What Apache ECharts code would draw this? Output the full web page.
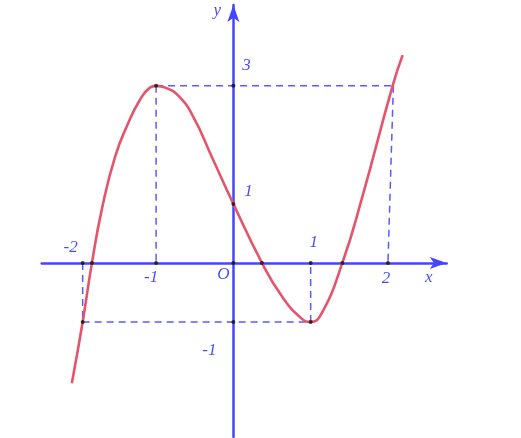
<!DOCTYPE html>
<html>
<head>
<meta charset="utf-8">
<script src="https://cdn.jsdelivr.net/npm/echarts@6/dist/echarts.min.js"></script>
<style>
html,body{margin:0;padding:0;background:#fff;}
#main{width:521px;height:438px;}
</style>
</head>
<body>
<div id="main"></div>
<script>
// 曲线上读出的点
var curveX = [-2.09, -1.95, -1.83, -1.70, -1.53, -1.36, -1.21, -1.08, -1, -0.88, -0.71, -0.52, -0.28, 0, 0.37, 0.63, 0.88, 1, 1.14, 1.41, 1.66, 2.06, 2.19];
var curveY = [-2.04, -1, 0, 0.92, 1.80, 2.37, 2.76, 2.97, 3, 2.97, 2.83, 2.48, 1.80, 1, 0, -0.57, -0.94, -1, -0.86, 0, 1.08, 3, 3.52];

// 刻度
var xTickValues = [-1.95, -1, 1, 2];
var xTickLabels = ['-2', '-1', '1', '2'];
var yTickValues = [3, 1, -1];
var yTickLabels = ['3', '1', '-1'];

// 虚线 (起点,终点)
var guideFrom = [[-1, 3], [-1, 3], [2.07, 3], [-1.95, -1], [1, -1], [-1.95, 0]];
var guideTo   = [[2.07, 3], [-1, 0], [2, 0], [1, -1], [1, 0], [-1.95, -1]];

// 黑点
var dotX = [-1, 0, -1, 0, 2, -1.95, -1.95, -1.83, 0.37, 1.41, 1, 1, 0, 0];
var dotY = [3, 3, 0, 1, 0, 0, -1, 0, 0, 0, 0, -1, -1, 0];

var chart = echarts.init(document.getElementById('main'));

var blue = '#4545ff';
var textBlue = '#1c1cf0';

var curveData = [];
for (var i = 0; i < curveX.length; i++) {
	curveData.push([curveX[i], curveY[i]]);
}

var series = [];
//虚线
for (var g = 0; g < guideFrom.length; g++) {
	series.push({
		type: 'line',
		data: [guideFrom[g], guideTo[g]],
		symbol: 'none',
		silent: true,
		lineStyle: {color: '#5a5aff', width: 1.5, type: [7, 5]},
		z: 2
	});
}
//曲线
series.push({
	type: 'line',
	data: curveData,
	smooth: 0.5,
	symbol: 'none',
	lineStyle: {color: '#e4546a', width: 2.6},
	z: 3
});
//点
var dotData = [];
for (var d = 0; d < dotX.length; d++) {
	dotData.push([dotX[d], dotY[d]]);
}
series.push({
	type: 'scatter',
	data: dotData,
	symbolSize: 4,
	itemStyle: {color: '#111'},
	z: 5
});

//文字
var xOff = [[-12, -15], [-5, 15], [3, -20], [-2, 16]];
var yOff = [[13, -20], [15, -12], [-24, 29]];
var labelData = [];
for (var a = 0; a < xTickValues.length; a++) {
	labelData.push({value: [xTickValues[a], 0], name: xTickLabels[a], label: {offset: xOff[a]}});
}
for (var b = 0; b < yTickValues.length; b++) {
	labelData.push({value: [0, yTickValues[b]], name: yTickLabels[b], label: {offset: yOff[b]}});
}
labelData.push({value: [0, 0], name: 'O', label: {offset: [-10, 12]}});
labelData.push({value: [2.76, 0], name: 'x', label: {offset: [-18, 15]}});
labelData.push({value: [0, 4.37], name: 'y', label: {offset: [-16, 6]}});

series.push({
	type: 'scatter',
	data: labelData,
	symbolSize: 0,
	silent: true,
	label: {
		show: true,
		position: 'inside',
		formatter: '{b}',
		color: textBlue,
		fontFamily: 'Liberation Serif',
		fontStyle: 'italic',
		fontSize: 17
	},
	z: 6
});

var axisCommon = {
	type: 'value',
	splitLine: {show: false},
	axisTick: {show: false},
	axisLabel: {show: false},
	axisLine: {
		show: true,
		onZero: true,
		symbol: ['none', 'arrow'],
		symbolSize: [9, 17],
		lineStyle: {color: blue, width: 2.5}
	}
};

var option = {
	animation: false,
	grid: {left: 41.7, right: 74.3, top: 5, bottom: 1},
	xAxis: Object.assign({}, axisCommon, {min: -2.48, max: 2.76}),
	yAxis: Object.assign({}, axisCommon, {min: -2.95, max: 4.37}),
	series: series
};

chart.setOption(option);
</script>
</body>
</html>
